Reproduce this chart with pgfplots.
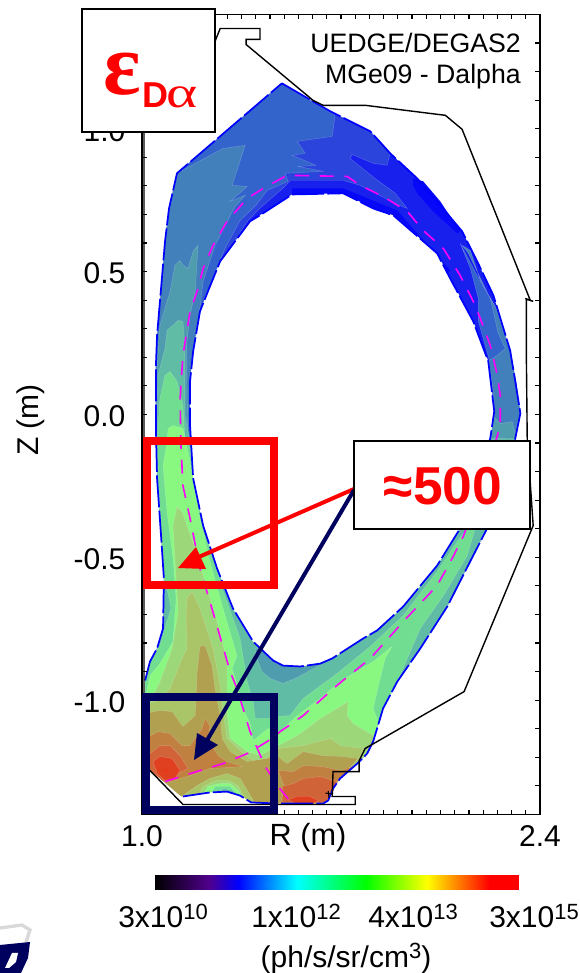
\documentclass[border=0pt]{standalone}
\usepackage{fontspec}
\setmainfont{Liberation Sans}
\newfontfamily\serifb{Liberation Serif}
\usepackage{pgfplots}
\pgfplotsset{compat=1.18}
\definecolor{C0}{HTML}{1820EE}
\definecolor{CB}{HTML}{0808F8}
\definecolor{CL}{HTML}{2A44DC}
\definecolor{CA}{HTML}{3264CC}
\definecolor{V1}{HTML}{4280BC}
\definecolor{V2}{HTML}{4F9CAE}
\definecolor{V3}{HTML}{60BCA4}
\definecolor{V4}{HTML}{70DD90}
\definecolor{V5}{HTML}{88F880}
\definecolor{V6}{HTML}{9CD87A}
\definecolor{V7}{HTML}{AAC468}
\definecolor{V8}{HTML}{B0A050}
\definecolor{V9}{HTML}{C08040}
\definecolor{V10}{HTML}{D06438}
\definecolor{V11}{HTML}{E04020}
\definecolor{V12}{HTML}{F03010}
\definecolor{navy}{HTML}{00005F}
\definecolor{pureblue}{rgb}{0,0,1}
\definecolor{purered}{rgb}{1,0,0}
\definecolor{puremag}{rgb}{1,0,1}
\pgfplotsset{band/.style={fill=#1,draw=white,draw opacity=0.25,line width=0.3pt,forget plot}}
\newcommand{\sx}[1]{\raisebox{6.5pt}{\fontsize{16.5}{18}\selectfont #1}}
\begin{document}
\begin{tikzpicture}
\path[use as bounding box] (0,0) rectangle (435pt,729.75pt);
\begin{axis}[
  at={(106.5pt,118.9pt)},anchor=south west,
  scale only axis,width=298.5pt,height=600pt,
  xmin=1,xmax=2.4,ymin=-1.4,ymax=1.4,
  axis line style={line width=1.1pt},
  tick style={black,line width=0.9pt},
  major tick length=4pt,minor tick length=3.5pt,
  tick align=inside,
  xtick={1,2.4},xticklabels={1.0,2.4},
  minor xtick={1.05,1.1,1.15,1.2,1.25,1.3,1.35,1.4,1.45,1.5,1.55,1.6,1.65,1.7,1.75,1.8,1.85,1.9,1.95,2,2.05,2.1,2.15,2.2,2.25,2.3,2.35},
  ytick={-1,-0.5,0,0.5,1},yticklabels={-1.0,-0.5,0.0,0.5,1.0},
  minor ytick={-1.3,-1.2,-1.1,-0.9,-0.8,-0.7,-0.6,-0.4,-0.3,-0.2,-0.1,0.1,0.2,0.3,0.4,0.6,0.7,0.8,0.9,1.1,1.2,1.3},
  tick label style={font=\fontsize{22.5}{24}\selectfont,/pgf/number format/assume math mode=true},
  xticklabel style={yshift=-5pt},
  yticklabel style={xshift=-9pt,yshift=-1.5pt},
  clip=false,axis on top,
]
% outer region, darkest blue
\addplot[fill=C0,draw=none,forget plot] coordinates {(1.492,1.159)(1.662,1.061)(1.803,0.991)(1.873,0.914)(1.968,0.826)(2.049,0.732)(2.126,0.641)(2.179,0.536)(2.236,0.417)(2.295,0.224)(2.313,0.116)(2.331,0.004)(2.313,-0.084)(2.214,-0.399)(2.165,-0.494)(2.074,-0.672)(1.979,-0.819)(1.898,-0.935)(1.848,-1.029)(1.827,-1.099)(1.813,-1.145)(1.792,-1.187)(1.757,-1.222)(1.697,-1.274)(1.672,-1.309)(1.655,-1.351)(1.637,-1.362)(1.486,-1.362)(1.144,-1.362)(1.028,-1.246)(1.011,-1.204)(1.011,-0.931)(1.028,-0.865)(1.053,-0.819)(1.074,-0.749)(1.077,-0.574)(1.067,-0.424)(1.053,-0.224)(1.049,-0.049)(1.049,0.172)(1.053,0.277)(1.067,0.441)(1.081,0.606)(1.095,0.721)(1.123,0.844)} --cycle;
\addplot[fill=CB,draw=none,forget plot] coordinates {(1.528,0.791)(1.708,0.791)(1.898,0.714)(2.084,0.504)(2.074,0.494)(1.884,0.690)(1.708,0.767)(1.528,0.763)} --cycle;
\addplot[fill=CB,draw=none,forget plot] coordinates {(1.954,0.826)(1.989,0.816)(2.049,0.746)(2.119,0.641)(2.109,0.634)(2.024,0.711)(1.968,0.774)(1.954,0.802)} --cycle;
\addplot[band=CL] coordinates {(1.123,0.844)(1.492,1.159)(1.662,1.061)(1.803,0.991)(1.873,0.914)(1.862,0.872)(1.813,0.879)(1.739,0.910)(1.732,0.896)(1.820,0.826)(1.891,0.774)(1.933,0.721)(1.898,0.735)(1.767,0.802)(1.708,0.819)(1.521,0.819)(1.503,0.798)(1.422,0.728)(1.373,0.679)(1.282,0.539)(1.232,0.406)(1.190,0.266)(1.176,0.108)(1.176,-0.084)(1.049,-0.084)(1.049,0.172)(1.053,0.277)(1.067,0.441)(1.081,0.606)(1.095,0.721)} --cycle;
\addplot[band=CA] coordinates {(1.123,0.844)(1.492,1.159)(1.679,1.047)(1.669,0.973)(1.546,0.956)(1.574,0.914)(1.528,0.907)(1.612,0.872)(1.549,0.868)(1.637,0.851)(1.503,0.844)(1.514,0.816)(1.440,0.784)(1.401,0.732)(1.345,0.679)(1.292,0.581)(1.246,0.466)(1.204,0.319)(1.187,0.196)(1.169,0.056)(1.162,-0.084)(1.049,-0.084)(1.049,0.172)(1.053,0.277)(1.067,0.441)(1.081,0.606)(1.095,0.721)} --cycle;
\addplot[band=V1] coordinates {(1.123,0.844)(1.285,0.931)(1.363,0.942)(1.317,0.802)(1.370,0.798)(1.310,0.746)(1.363,0.767)(1.327,0.728)(1.257,0.592)(1.215,0.466)(1.194,0.291)(1.176,0.172)(1.169,-0.004)(1.169,-0.119)(1.049,-0.119)(1.049,0.172)(1.053,0.277)(1.067,0.441)(1.081,0.606)(1.095,0.721)} --cycle;
\addplot[band=V2] coordinates {(1.197,0.592)(1.180,0.571)(1.162,0.511)(1.144,0.522)(1.134,0.539)(1.116,0.522)(1.099,0.431)(1.063,0.312)(1.053,0.172)(1.049,-0.119)(1.162,-0.119)(1.158,0.116)(1.158,0.256)(1.169,0.347)(1.187,0.431)} --cycle;
% right side of the ring
\addplot[band=CA] coordinates {(2.119,0.599)(2.190,0.466)(2.246,0.371)(2.295,0.224)(2.316,0.116)(2.331,0.004)(2.313,-0.084)(2.225,-0.084)(2.239,0.011)(2.225,0.179)(2.183,0.326)(2.183,0.406)(2.155,0.511)} --cycle;
\addplot[band=V1] coordinates {(2.126,0.592)(2.155,0.574)(2.190,0.469)(2.246,0.371)(2.295,0.224)(2.316,0.116)(2.331,0.004)(2.313,-0.084)(2.225,-0.084)(2.239,0.011)(2.232,0.108)(2.218,0.186)(2.250,0.207)(2.278,0.231)(2.253,0.284)(2.225,0.406)(2.148,0.564)} --cycle;
\addplot[band=V2] coordinates {(2.236,-0.007)(2.260,-0.032)(2.302,-0.025)(2.316,-0.084)(2.221,-0.102)} --cycle;
% lower part
\addplot[band=V3] coordinates {(1.127,0.329)(1.109,0.312)(1.088,0.294)(1.081,0.231)(1.056,0.137)(1.053,-0.039)(1.053,-0.224)(1.067,-0.424)(1.077,-0.574)(1.074,-0.749)(1.053,-0.819)(1.028,-0.865)(1.011,-0.931)(1.011,-1.204)(1.028,-1.246)(1.144,-1.362)(1.637,-1.362)(1.655,-1.351)(1.672,-1.309)(1.697,-1.274)(1.757,-1.222)(1.792,-1.187)(1.813,-1.145)(1.827,-1.099)(1.848,-1.029)(1.898,-0.935)(1.979,-0.819)(2.074,-0.672)(2.165,-0.494)(2.214,-0.399)(2.313,-0.084)(1.169,-0.095)(1.151,-0.004)(1.151,0.231)(1.144,0.326)} --cycle;
\addplot[band=V2] coordinates {(1.398,-0.819)(1.546,-0.854)(1.669,-0.837)(1.669,-0.854)(1.591,-0.896)(1.539,-0.924)(1.496,-0.941)(1.451,-0.924)(1.422,-0.900)(1.405,-0.854)} --cycle;
\addplot[band=V4] coordinates {(1.099,0.150)(1.081,0.137)(1.063,0.056)(1.053,-0.095)(1.067,-0.424)(1.077,-0.574)(1.088,-0.609)(1.102,-0.679)(1.088,-0.725)(1.063,-0.809)(1.028,-0.865)(1.011,-0.931)(1.011,-1.204)(1.028,-1.246)(1.144,-1.362)(1.637,-1.362)(1.655,-1.351)(1.672,-1.309)(1.697,-1.274)(1.757,-1.222)(1.792,-1.187)(1.813,-1.145)(1.827,-1.099)(1.848,-1.029)(1.898,-0.935)(1.979,-0.749)(2.060,-0.634)(2.144,-0.494)(2.172,-0.399)(2.144,-0.399)(2.109,-0.445)(2.038,-0.550)(1.919,-0.704)(1.803,-0.812)(1.686,-0.907)(1.567,-0.994)(1.521,-1.054)(1.479,-1.057)(1.451,-1.064)(1.398,-1.064)(1.391,-1.005)(1.370,-0.935)(1.345,-0.784)(1.282,-0.609)(1.222,-0.399)(1.194,-0.259)(1.169,-0.119)(1.151,-0.084)(1.144,0.032)(1.123,0.116)} --cycle;
\addplot[band=V5] coordinates {(1.109,-0.039)(1.092,-0.049)(1.088,-0.095)(1.074,-0.179)(1.088,-0.340)(1.109,-0.504)(1.120,-0.644)(1.109,-0.795)(1.063,-0.872)(1.028,-0.914)(1.011,-0.994)(1.011,-1.204)(1.028,-1.246)(1.144,-1.362)(1.637,-1.362)(1.655,-1.351)(1.672,-1.309)(1.697,-1.274)(1.757,-1.222)(1.792,-1.187)(1.813,-1.145)(1.831,-1.075)(1.813,-1.029)(1.827,-0.970)(1.855,-0.854)(1.880,-0.812)(1.813,-0.865)(1.697,-0.935)(1.627,-0.994)(1.546,-1.054)(1.486,-1.110)(1.444,-1.099)(1.391,-1.141)(1.380,-1.082)(1.352,-1.022)(1.338,-0.959)(1.317,-0.889)(1.334,-0.844)(1.285,-0.679)(1.239,-0.515)(1.204,-0.364)(1.169,-0.165)(1.144,-0.049)} --cycle;
\addplot[band=V6] coordinates {(1.123,-0.322)(1.109,-0.389)(1.120,-0.574)(1.127,-0.690)(1.106,-0.819)(1.063,-0.935)(1.028,-1.005)(1.011,-1.029)(1.011,-1.204)(1.028,-1.246)(1.144,-1.362)(1.637,-1.362)(1.655,-1.351)(1.672,-1.309)(1.697,-1.274)(1.757,-1.222)(1.792,-1.187)(1.813,-1.145)(1.820,-1.127)(1.743,-1.082)(1.722,-1.054)(1.725,-1.005)(1.627,-1.064)(1.546,-1.124)(1.479,-1.159)(1.415,-1.194)(1.370,-1.180)(1.310,-1.134)(1.299,-1.040)(1.299,-0.865)(1.275,-0.760)(1.229,-0.609)(1.187,-0.469)(1.141,-0.340)} --cycle;
\addplot[band=V7] coordinates {(1.176,-0.620)(1.158,-0.644)(1.155,-0.714)(1.158,-0.819)(1.141,-0.854)(1.099,-0.959)(1.046,-1.005)(1.011,-1.015)(1.011,-1.204)(1.028,-1.246)(1.144,-1.362)(1.637,-1.362)(1.655,-1.351)(1.672,-1.309)(1.697,-1.274)(1.757,-1.222)(1.778,-1.169)(1.697,-1.159)(1.662,-1.134)(1.567,-1.159)(1.479,-1.169)(1.415,-1.222)(1.370,-1.197)(1.299,-1.134)(1.285,-1.040)(1.275,-0.948)(1.250,-0.819)(1.204,-0.679)} --cycle;
\addplot[band=V8] coordinates {(1.204,-0.812)(1.222,-0.809)(1.246,-0.879)(1.257,-0.959)(1.275,-1.054)(1.282,-1.134)(1.310,-1.180)(1.370,-1.215)(1.479,-1.197)(1.510,-1.222)(1.567,-1.180)(1.634,-1.194)(1.704,-1.197)(1.760,-1.204)(1.697,-1.274)(1.672,-1.309)(1.655,-1.351)(1.637,-1.362)(1.144,-1.362)(1.028,-1.246)(1.011,-1.204)(1.011,-1.047)(1.063,-1.036)(1.106,-1.040)(1.144,-1.092)(1.187,-1.054)(1.194,-0.900)} --cycle;
% minimum over the bottom of the private region
\addplot[band=V7] coordinates {(1.134,-1.362)(1.144,-1.334)(1.194,-1.299)(1.239,-1.274)(1.299,-1.257)(1.345,-1.274)(1.373,-1.320)(1.398,-1.362)} --cycle;
\addplot[band=V6] coordinates {(1.187,-1.362)(1.215,-1.302)(1.264,-1.281)(1.303,-1.281)(1.338,-1.299)(1.370,-1.362)} --cycle;
\addplot[band=V5] coordinates {(1.197,-1.362)(1.232,-1.302)(1.275,-1.292)(1.310,-1.292)(1.338,-1.316)(1.366,-1.362)} --cycle;
\addplot[band=V4] coordinates {(1.222,-1.362)(1.257,-1.302)(1.310,-1.302)(1.338,-1.334)(1.356,-1.362)} --cycle;
\addplot[band=V3] coordinates {(1.246,-1.362)(1.285,-1.309)(1.320,-1.316)(1.345,-1.362)} --cycle;
\addplot[band=V2] coordinates {(1.282,-1.362)(1.303,-1.320)(1.331,-1.362)} --cycle;
% maxima
\addplot[band=V9] coordinates {(1.011,-1.134)(1.056,-1.110)(1.099,-1.117)(1.141,-1.159)(1.169,-1.159)(1.211,-1.099)(1.222,-1.064)(1.239,-1.089)(1.232,-1.134)(1.268,-1.194)(1.299,-1.215)(1.356,-1.232)(1.299,-1.236)(1.239,-1.239)(1.169,-1.264)(1.099,-1.285)(1.028,-1.246)(1.011,-1.204)} --cycle;
\addplot[band=V9] coordinates {(1.479,-1.246)(1.532,-1.250)(1.567,-1.229)(1.634,-1.232)(1.697,-1.246)(1.743,-1.232)(1.697,-1.274)(1.672,-1.309)(1.655,-1.351)(1.637,-1.362)(1.486,-1.362)(1.503,-1.309)} --cycle;
\addplot[band=V10] coordinates {(1.028,-1.187)(1.063,-1.159)(1.099,-1.159)(1.134,-1.194)(1.162,-1.239)(1.109,-1.267)(1.074,-1.285)(1.028,-1.246)(1.011,-1.229)} --cycle;
\addplot[band=V10] coordinates {(1.493,-1.302)(1.532,-1.292)(1.567,-1.274)(1.627,-1.267)(1.686,-1.285)(1.669,-1.327)(1.644,-1.358)(1.496,-1.358)} --cycle;
\addplot[band=V11] coordinates {(1.039,-1.215)(1.063,-1.197)(1.106,-1.204)(1.134,-1.246)(1.116,-1.274)(1.081,-1.281)(1.053,-1.257)} --cycle;
\addplot[band=V11] coordinates {(1.514,-1.348)(1.546,-1.337)(1.591,-1.337)(1.620,-1.351)(1.602,-1.362)(1.539,-1.362)} --cycle;
\addplot[fill=V12,draw=none,forget plot] coordinates {(1.074,-1.243)(1.088,-1.243)(1.088,-1.253)} --cycle;
% white below the private flux boundary
\addplot[fill=white,draw=none,forget plot] coordinates {(1.028,-1.246)(1.137,-1.337)(1.144,-1.337)(1.239,-1.323)(1.299,-1.320)(1.345,-1.334)(1.384,-1.358)(1.433,-1.365)(1.028,-1.365)} --cycle;
% outer boundary
\addplot[pureblue,line width=1.3pt,dash pattern=on 24pt off 2.5pt,forget plot] coordinates {(1.492,1.159)(1.662,1.061)(1.803,0.991)(1.873,0.914)(1.968,0.826)(2.049,0.732)(2.126,0.641)(2.179,0.536)(2.236,0.417)(2.295,0.224)(2.313,0.116)(2.331,0.004)(2.313,-0.084)(2.214,-0.399)(2.165,-0.494)(2.074,-0.672)(1.979,-0.819)(1.898,-0.935)(1.848,-1.029)(1.827,-1.099)(1.813,-1.145)(1.792,-1.187)(1.757,-1.222)(1.697,-1.274)(1.672,-1.309)(1.655,-1.351)(1.637,-1.362)(1.486,-1.362)(1.384,-1.358)(1.345,-1.334)(1.299,-1.320)(1.239,-1.323)(1.144,-1.337)} ;
\addplot[pureblue,line width=1.3pt,dash pattern=on 24pt off 2.5pt,forget plot] coordinates {(1.011,-0.931)(1.028,-0.865)(1.053,-0.819)(1.074,-0.749)(1.077,-0.574)(1.067,-0.424)(1.053,-0.224)(1.049,-0.049)(1.049,0.172)(1.053,0.277)(1.067,0.441)(1.081,0.606)(1.095,0.721)(1.123,0.844)(1.492,1.159)};
% the hole of the ring
\addplot[fill=white,draw=pureblue,line width=1.3pt,dash pattern=on 24pt off 2.5pt,forget plot] coordinates {(1.461,-0.861)(1.496,-0.879)(1.556,-0.882)(1.627,-0.872)(1.669,-0.854)(1.778,-0.784)(1.827,-0.756)(1.919,-0.672)(2.038,-0.529)(2.119,-0.399)(2.225,-0.084)(2.239,0.011)(2.218,0.186)(2.165,0.326)(2.084,0.476)(2.038,0.564)(1.884,0.697)(1.813,0.721)(1.708,0.774)(1.528,0.770)(1.415,0.697)(1.380,0.676)(1.275,0.536)(1.232,0.431)(1.204,0.361)(1.180,0.221)(1.169,0.116)(1.169,-0.039)(1.180,-0.224)(1.215,-0.389)(1.264,-0.539)(1.320,-0.679)(1.391,-0.795)} --cycle;
% separatrix
\addplot[puremag,line width=1.2pt,dash pattern=on 10.5pt off 8pt,forget plot] coordinates {(1.081,-1.285)(1.169,-1.257)(1.285,-1.222)(1.370,-1.187)(1.440,-1.145)(1.486,-1.110)(1.567,-1.054)(1.686,-0.948)(1.803,-0.854)(1.919,-0.725)(2.038,-0.599)(2.091,-0.504)(2.130,-0.427)(2.207,-0.224)(2.260,-0.039)(2.260,0.067)(2.250,0.137)(2.225,0.242)(2.190,0.336)(2.165,0.396)(2.119,0.487)(2.060,0.581)(1.989,0.644)(1.933,0.711)(1.848,0.763)(1.767,0.802)(1.722,0.833)(1.510,0.837)(1.426,0.791)(1.370,0.756)(1.299,0.676)(1.250,0.592)(1.215,0.511)(1.194,0.431)(1.169,0.361)(1.144,0.207)(1.134,0.056)(1.137,-0.109)(1.144,-0.249)(1.169,-0.364)(1.204,-0.539)(1.246,-0.679)(1.310,-0.900)(1.334,-0.959)(1.380,-1.110)(1.433,-1.232)(1.479,-1.302)(1.521,-1.354)};
% vessel wall
\addplot[black,line width=1.05pt,forget plot] coordinates {(1.007,1.001)(1.257,1.306)(1.275,1.351)(1.415,1.351)(1.415,1.313)(1.366,1.313)(1.366,1.295)(1.602,1.099)(1.637,1.082)(1.785,1.082)(2.067,1.047)(2.126,0.998)(2.366,0.399)(2.348,0.406)(2.376,0.396)(2.352,0.403)(2.352,0.207)(2.355,-0.084)(2.376,-0.389)(2.133,-0.970)(1.785,-1.169)(1.764,-1.211)(1.764,-1.250)(1.672,-1.250)(1.669,-1.337)(1.750,-1.337)(1.750,-1.365)(1.144,-1.365)(1.028,-1.246)(1.007,-1.239)(1.007,1.001)};
\addplot[black,line width=0.8pt,forget plot] coordinates {(1.655,-1.318)(1.658,-1.342)};
\addplot[black,line width=0.8pt,forget plot] coordinates {(1.645,-1.325)(1.672,-1.329)};
\end{axis}
% colour bar
\begin{axis}[
  at={(116.25pt,62.25pt)},anchor=south west,
  scale only axis,width=272.25pt,height=11.25pt,
  xmin=0,xmax=1,ymin=0,ymax=1,hide axis,
  view={0}{90},
  point meta min=0,point meta max=1,
  colormap={ct}{rgb255(0cm)=(0,0,0);rgb255(15cm)=(80,0,140);rgb255(23cm)=(0,0,255);rgb255(39cm)=(0,255,255);rgb255(58cm)=(0,255,0);rgb255(75cm)=(255,255,0);rgb255(92cm)=(255,0,0);rgb255(100cm)=(255,0,0)},
]
\addplot[surf,shader=interp,point meta=x] coordinates {
(0,0)(0.15,0)(0.23,0)(0.39,0)(0.58,0)(0.75,0)(0.92,0)(1,0)

(0,1)(0.15,1)(0.23,1)(0.39,1)(0.58,1)(0.75,1)(0.92,1)(1,1)
};
\end{axis}
% annotations, in reference pixels
\begin{scope}[x=0.75pt,y=-0.75pt,yshift=729.75pt]
\node[font=\fontsize{20}{22}\selectfont,anchor=east,inner sep=0pt] at (521,43) {UEDGE/DEGAS2};
\node[font=\fontsize{20}{22}\selectfont,anchor=east,inner sep=0pt] at (521,77) {MGe09 - Dalpha};
\node[font=\fontsize{23}{24}\selectfont] at (308,838) {R (m)};
\node[font=\fontsize{22.5}{24}\selectfont,rotate=90] at (31,420) {Z (m)};
% error boxes and arrows
\draw[purered,line width=6pt] (147,441) rectangle (274,585);
\draw[navy,line width=6pt] (146,697) rectangle (274,810);
\draw[purered,line width=3pt] (354,489) -- (192,560);
\fill[purered] (178,568) -- (196,547) -- (206,569) -- cycle;
\draw[navy,line width=3pt] (354,490) -- (206,742);
\fill[navy] (194,760) -- (197,733) -- (218,745) -- cycle;
\draw[black,line width=1.1pt,fill=white] (354,441) rectangle (530,529);
\node[purered,font=\fontsize{40}{42}\selectfont\bfseries] at (443,486) {≈500};
\draw[black,line width=1.1pt,fill=white] (82,9) rectangle (215,132);
\node[purered,font=\fontsize{66}{68}\selectfont\serifb\bfseries,anchor=base] at (122,95) {ε};
\node[purered,font=\fontsize{27}{29}\selectfont\bfseries,anchor=base] at (155,108) {D};
\node[purered,font=\fontsize{33}{35}\selectfont\serifb,anchor=base,xscale=1.35] at (182,108) {α};
% colour bar labels
\node[font=\fontsize{22.5}{24}\selectfont,anchor=base west,inner sep=0pt] at (118,928) {3x10\sx{10}};
\node[font=\fontsize{22.5}{24}\selectfont,anchor=base west,inner sep=0pt] at (251,928) {1x10\sx{12}};
\node[font=\fontsize{22.5}{24}\selectfont,anchor=base west,inner sep=0pt] at (368,928) {4x10\sx{13}};
\node[font=\fontsize{22.5}{24}\selectfont,anchor=base west,inner sep=0pt] at (489,928) {3x10\sx{15}};
\node[font=\fontsize{22.5}{24}\selectfont,anchor=base,inner sep=0pt] at (346,967) {(ph/s/sr/cm\sx{3})};
% logo fragment
\draw[gray!30,line width=2.5pt,line cap=round] (0,928) -- (22,925) -- (30,930) -- (26,942);
\fill[navy] (0,945) -- (30,942) -- (28,958) -- (21,973) -- (0,973) -- cycle;
\fill[white] (12,953) -- (18,953) -- (16,962) -- (9,968) -- (5,968) -- cycle;
\end{scope}
\end{tikzpicture}
\end{document}
